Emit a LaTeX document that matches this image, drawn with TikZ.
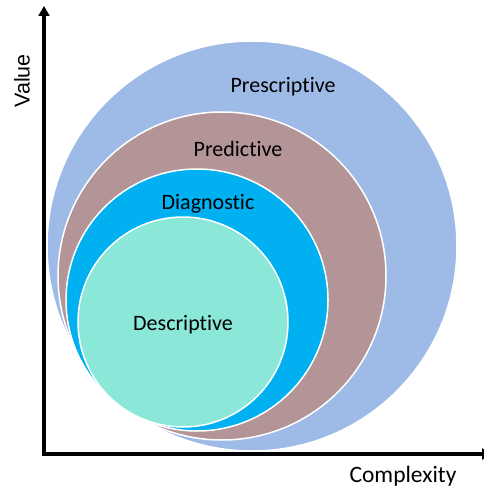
\documentclass[tikz,border=0pt]{standalone}
\usepackage{fontspec}
\setmainfont{Carlito}[Ligatures=NoCommon]
\newfontfamily\axisfont{Liberation Sans}
\usetikzlibrary{arrows.meta,positioning}

\definecolor{prescol}{RGB}{158,187,232}
\definecolor{predcol}{RGB}{179,149,152}
\definecolor{diagcol}{RGB}{0,176,240}
\definecolor{descol}{RGB}{139,232,216}

\begin{document}
\begin{tikzpicture}[x=1pt,y=-1pt,>={Triangle[width=11pt,length=10pt]}]
	\useasboundingbox (0,0) rectangle (483,489);
	\tikzset{every node/.style={inner sep=0pt,outer sep=0pt}}
	\tikzset{ring/.style={circle,draw=white,line width=1.5pt}}
	\tikzset{lbl/.style={font=\fontsize{22}{26}\selectfont}}
	% nested circles
	\node[ring,fill=prescol,minimum size=410pt] (P) at (252,246) {};
	\node[ring,fill=predcol,minimum size=328pt] (R) at (222,276) {};
	\node[ring,fill=diagcol,minimum size=262pt] (G) at (197,300) {};
	\node[ring,fill=descol,minimum size=210pt]  (D) at (183,322) {};
	% labels
	\node[lbl] (Ptext) at (283,87)  {Prescriptive};
	\node[lbl] (Rtext) at (238,149) {Predictive};
	\node[lbl] (Gtext) at (208,204) {Diagnostic};
	\node[lbl] (Dtext) at (183,325) {Descriptive};
	% axes
	\coordinate (O) at (44,454);
	\coordinate (Y) at (44,6);
	\coordinate (X) at (492,454);
	\draw[->,line width=3.2pt] (O) -- (Y);
	\draw[->,line width=3.2pt] ([xshift=-1.6pt]O) -- (X);
	\node[rotate=90,font=\axisfont\fontsize{21.5}{24}\selectfont] (V) at (22,81) {Value};
	\node[lbl,font=\fontsize{23.5}{26}\selectfont] (C) at (403,476) {Complexity};
\end{tikzpicture}
\end{document}
